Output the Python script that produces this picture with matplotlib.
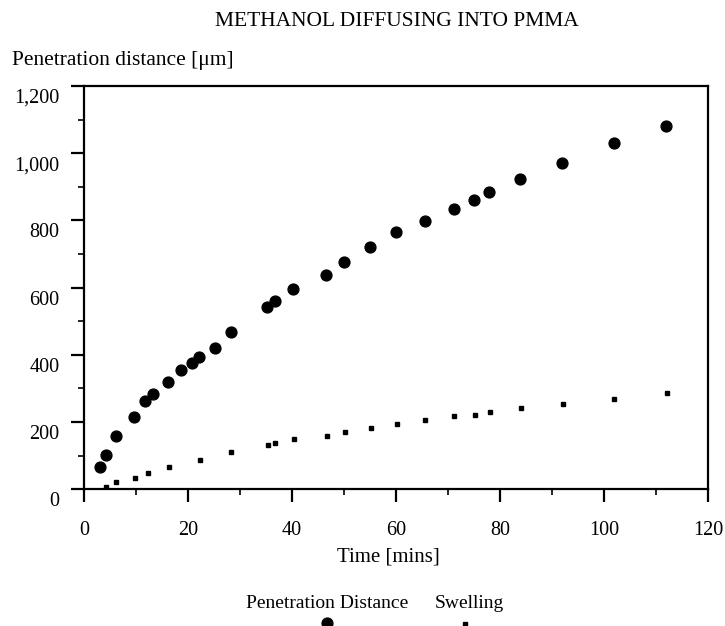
import matplotlib
matplotlib.use('Agg')
import matplotlib.pyplot as plt
import matplotlib.transforms as mtransforms
from matplotlib.lines import Line2D
from matplotlib.ticker import MultipleLocator, StrMethodFormatter

plt.rcParams['font.family'] = ['Liberation Serif', 'DejaVu Serif']

# penetration distance [um] vs time [mins]
pen_time = [3.0, 4.2, 6.2, 9.6, 11.7, 13.2, 16.2, 18.6, 20.7, 22.2, 25.1, 28.2,
            35.2, 36.7, 40.1, 46.6, 50.0, 55.0, 60.0, 65.5, 71.1, 75.0, 77.9,
            83.9, 92.0, 101.9, 112.0]
pen_dist = [67, 101, 159, 215, 262, 284, 319, 354, 376, 393, 421, 468,
            542, 560, 596, 639, 676, 720, 765, 799, 833, 860, 884,
            924, 970, 1029, 1082]

# swelling
swell_time = [4.2, 6.2, 9.8, 12.3, 16.3, 22.3, 28.3, 35.3, 36.8, 40.3, 46.8,
              50.2, 55.2, 60.2, 65.6, 71.1, 75.1, 78.1, 84.1, 92.1, 102.0, 112.1]
swell_dist = [8, 22, 34, 49, 67, 88, 111, 133, 137, 149, 159,
              171, 183, 194, 206, 218, 222, 229, 242, 253, 269, 286]

W, H = 725, 626
fig = plt.figure(figsize=(W / 100, H / 100), dpi=100)
ax = fig.add_axes([84 / W, 1 - 489.3 / H, (708 - 84) / W, (489.3 - 86) / H])

ax.plot(pen_time, pen_dist, 'o', color='black', markersize=7.8, linestyle='none')
ax.plot(swell_time, swell_dist, 's', color='black', markersize=3.5, linestyle='none')

ax.set_xlim(0, 120)
ax.set_ylim(0, 1200)
ax.xaxis.set_major_locator(MultipleLocator(20))
ax.xaxis.set_minor_locator(MultipleLocator(10))
ax.yaxis.set_major_locator(MultipleLocator(200))
ax.yaxis.set_minor_locator(MultipleLocator(100))
ax.yaxis.set_major_formatter(StrMethodFormatter('{x:,.0f}'))

for s in ax.spines.values():
    s.set_linewidth(1.6)
ax.tick_params(which='major', direction='out', length=9.5, width=1.6, labelsize=14.5)
ax.tick_params(which='minor', direction='out', length=4.5, width=1.2)
ax.tick_params(axis='x', which='major', pad=13)
ax.tick_params(axis='y', which='major', pad=8)

# y tick labels sit a bit below their ticks in the original
offset = mtransforms.ScaledTranslation(0, -10 / 100, fig.dpi_scale_trans)
for lab in ax.get_yticklabels():
    lab.set_transform(lab.get_transform() + offset)

fig.text(397 / W, 1 - 21 / H, 'METHANOL DIFFUSING INTO PMMA', ha='center', va='center', fontsize=15.5)
fig.text(12 / W, 1 - 60 / H, 'Penetration distance [\u03bcm]', ha='left', va='center', fontsize=15.5)
fig.text(388 / W, 1 - 557 / H, 'Time [mins]', ha='center', va='center', fontsize=15)

# legend: labels above markers (cut off at the bottom edge)
fig.text(327 / W, 1 - 603 / H, 'Penetration Distance', ha='center', va='center', fontsize=14)
fig.text(469 / W, 1 - 603 / H, 'Swelling', ha='center', va='center', fontsize=14)
fig.add_artist(Line2D([327 / W], [1 - 623 / H], marker='o', color='black', markersize=7.8,
                      transform=fig.transFigure, linestyle='none'))
fig.add_artist(Line2D([465 / W], [1 - 624 / H], marker='s', color='black', markersize=3.5,
                      transform=fig.transFigure, linestyle='none'))

fig.savefig('out.png', dpi=100)
